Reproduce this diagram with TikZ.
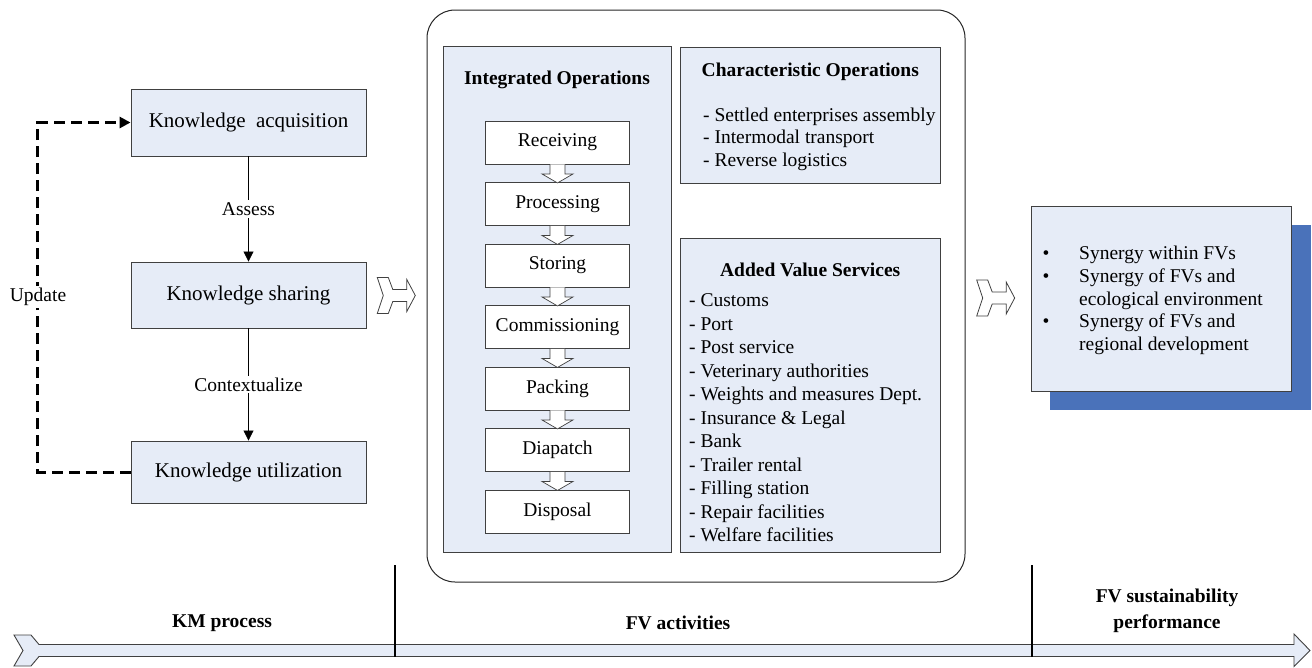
\documentclass[tikz,border=0pt]{standalone}
\usepackage{fontspec}
\setmainfont{Liberation Serif}
\usetikzlibrary{arrows.meta}
\definecolor{boxfill}{RGB}{230,236,247}
\definecolor{boxline}{RGB}{64,64,64}
\definecolor{shadowblue}{RGB}{74,114,186}
\begin{document}
\begin{tikzpicture}[x=1pt,y=-1pt,
  every node/.style={font=\fontsize{19.5}{23.5}\selectfont},
  kbox/.style={draw=boxline, fill=boxfill, line width=0.9pt, minimum width=235, minimum height=66, inner sep=0, font=\fontsize{21}{25}\selectfont},
  panel/.style={draw=boxline, fill=boxfill, line width=0.9pt, inner sep=0},
  stepbox/.style={draw=boxline, fill=white, line width=0.9pt, minimum width=143.5, minimum height=43, inner sep=0},
  titletext/.style={font=\fontsize{19.5}{23.5}\selectfont\bfseries, inner sep=0},
  itemtext/.style={anchor=base west, inner sep=0},
  lbl/.style={fill=white, inner sep=2pt},
  flow/.style={draw=black, line width=0.8pt, -{Triangle[length=10pt,width=10pt]}},
  dashflow/.style={draw=black, line width=3pt, dash pattern=on 11pt off 6pt, -{Triangle[length=11pt,width=11pt]}},
  vline/.style={draw=black, line width=1.1pt},
  chev/.pic={\draw[line width=0.8pt, draw=boxline, fill=white]
     (0,-18) -- (11,-18) -- (15.5,-6) -- (29.5,-6) -- (29.5,-16) -- (38,0) -- (29.5,16)
     -- (29.5,6) -- (15.5,6) -- (11,18) -- (0,18) -- (6,0) -- cycle;},
  darr/.pic={\draw[line width=0.7pt, draw=boxline, fill=white]
     (-7.5,0) -- (-7.5,9.5) -- (-15.5,9.5) -- (0,18.5) -- (15.5,9.5) -- (7.5,9.5) -- (7.5,0);}
]
\useasboundingbox (0,0) rectangle (1312,667);

% ---------------- KM process ----------------
\node[kbox, minimum height=67] (acq) at (248.5,122.5) {Knowledge~ acquisition};
\node[kbox] (sha) at (248.5,295) {Knowledge sharing};
\node[kbox, minimum height=62] (uti) at (248.5,472) {Knowledge utilization};
\draw[flow] (acq) -- node[lbl] (assess) {Assess} (sha);
\draw[flow] (sha) -- node[lbl] (context) {Contextualize} (uti);
\draw[dashflow] (uti.west) -- ++(-93,0) |- (acq.west);
\node[lbl] (upd) at (38,297) {Update};

\pic (chA) at (377.3,295.5) {chev};

% ---------------- FV activities ----------------
\node[draw=black!85, line width=1pt, rounded corners=28, minimum width=538, minimum height=572, inner sep=0] (fv) at (696,296) {};

\node[panel, minimum width=228, minimum height=506] (iop) at (557,299) {};
\node[titletext] (ioptitle) at (557,80) {Integrated Operations};
\foreach \t [count=\i] in {Receiving,Processing,Storing,Commissioning,Packing,Diapatch,Disposal}
  \node[stepbox] (s\i) at (557.5,{142.5+(\i-1)*61.5}) {\t};
\foreach \i in {1,...,6}
  \pic at (s\i.south) {darr};

\node[panel, minimum width=260.5, minimum height=136] (cop) at (810.3,115) {};
\node[titletext] (coptitle) at (810.3,72) {Characteristic Operations};
\foreach \t [count=\i] in {Settled enterprises assembly,Intermodal transport,Reverse logistics}
  \node[itemtext] (c\i) at (703,{121+(\i-1)*22.5}) {- \t};

\node[panel, minimum width=260, minimum height=314] (avs) at (810.2,395) {};
\node[titletext] (avstitle) at (810.2,270) {Added Value Services};
\foreach \t [count=\i] in {Customs,Port,Post service,Veterinary authorities,Weights and measures Dept.,Insurance \& Legal,Bank,Trailer rental,Filling station,Repair facilities,Welfare facilities}
  \node[itemtext] (a\i) at (689,{306.5+(\i-1)*23.5}) {- \t};

\pic (chB) at (976.7,298) {chev};

% ---------------- FV sustainability performance ----------------
\node[fill=shadowblue, minimum width=260.7, minimum height=185, inner sep=0] (shd) at (1180.3,317.5) {};
\node[panel, minimum width=260, minimum height=185] (perf) at (1161.7,298.5) {};
\node[anchor=base, inner sep=0] (b1) at (1046,259) {\textbullet};
\node[anchor=base, inner sep=0] (b2) at (1046,282) {\textbullet};
\node[anchor=base, inner sep=0] (b3) at (1046,327) {\textbullet};
\node[itemtext] (p1) at (1079,259) {Synergy within FVs};
\node[itemtext] (p2) at (1079,282) {Synergy of FVs and};
\node[itemtext] (p3) at (1079,305) {ecological environment};
\node[itemtext] (p4) at (1079,327) {Synergy of FVs and};
\node[itemtext] (p5) at (1079,350) {regional development};

% ---------------- bottom axis ----------------
\draw[line width=0.9pt, draw=boxline, fill=boxfill]
  (14,635) -- (31,635) -- (39,644.5) -- (1294,644.5) -- (1294,634) -- (1310,650.5)
  -- (1294,666.5) -- (1294,656.5) -- (39,656.5) -- (31,666) -- (14,666) -- (23,650.5) -- cycle;
\coordinate (v1t) at (395,565);
\coordinate (v1b) at (395,656.5);
\coordinate (v2t) at (1032,565);
\coordinate (v2b) at (1032,656.5);
\draw[vline] (v1t) -- (v1b);
\draw[vline] (v2t) -- (v2b);
\node[titletext] (km) at (222,623) {KM process};
\node[titletext] (fva) at (678,623) {FV activities};
\node[titletext, align=center, font=\fontsize{19.5}{26}\selectfont\bfseries] (fvs) at (1167,611) {FV sustainability\\performance};
\end{tikzpicture}
\end{document}
